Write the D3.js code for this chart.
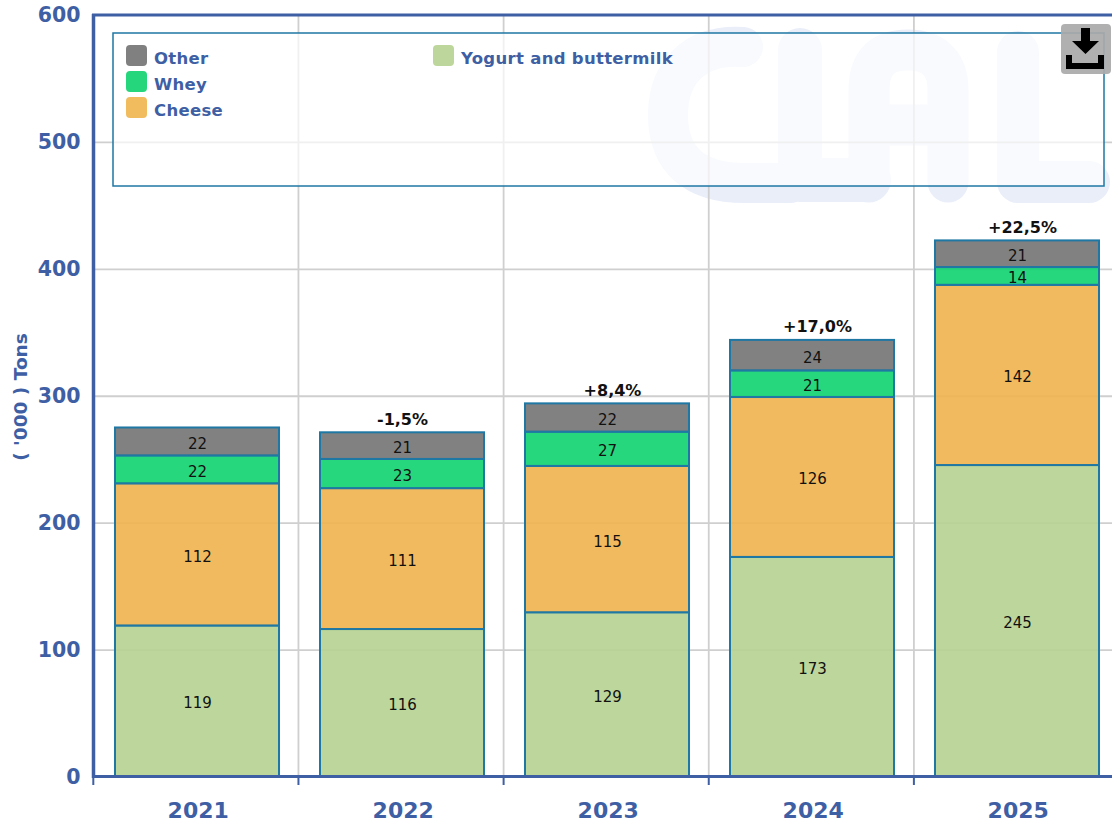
<!DOCTYPE html>
<html><head><meta charset="utf-8">
<script src="https://cdn.jsdelivr.net/npm/d3@7/dist/d3.min.js"></script>
<style>html,body{margin:0;padding:0;background:#fff;overflow:hidden}svg{display:block}
text{font-family:"DejaVu Sans",sans-serif}</style></head><body><svg id="c" width="1112" height="823"></svg>
<script>
const years=["2021","2022","2023","2024","2025"];
const yogurt=[119,116.2,129.4,173,245.4];
const cheese=[112,111,115.3,126,142];
const whey=[22,23,27,21,14];
const other=[22,21,22.3,24,21];
const changes=["","-1,5%","+8,4%","+17,0%","+22,5%"];
const yTicks=[0,100,200,300,400,500,600];
const names=["Yogurt and buttermilk","Cheese","Whey","Other"];
const colors=["#b5d190","#efb34c","#0fd370","#737373"];
const legendSwatch=["#bdd69b","#f0bc5e","#26d67c","#808080"];
const axisBlue="#3f5fa5", border="#1f77a4";

const svg=d3.select("#c");
const rows=years.map((y,i)=>({year:y,[names[0]]:yogurt[i],[names[1]]:cheese[i],[names[2]]:whey[i],[names[3]]:other[i]}));
const stacked=d3.stack().keys(names)(rows);
const x=d3.scaleBand().domain(years).range([94.5,1119.5]);
const barW=164;
const bx=d=>x(d)+x.bandwidth()/2;
const gx=d=>x(d)-1.2+years.indexOf(d)*0.15;
const y=d3.scaleLinear().domain([0,600]).range([776.5,15]);

// watermark
const wm=svg.append("g").attr("fill","none").attr("stroke","#e9eef9").attr("stroke-linecap","round").attr("stroke-linejoin","round");
wm.append("path").attr("stroke-width",40).attr("d","M743 47 C695 44 668 72 668 115 C668 160 695 183 745 183 L790 183");
wm.append("path").attr("stroke-width",44).attr("d","M800 50 L800 180 L869 180");
wm.append("path").attr("stroke-width",41).attr("d","M869 182 L869 90 C869 60 885 50 908 50 C935 50 948 65 948 90 L948 182 M880 125 L940 125");
wm.append("path").attr("stroke-width",42).attr("d","M1018 52 L1018 182 L1089 182");

// grid
const grid=svg.append("g").attr("stroke","#cfcfcf").attr("stroke-width",1.8);
grid.selectAll("line.h").data(yTicks.filter(t=>t>0&&t<600)).join("line").attr("class","h")
 .attr("x1",95).attr("x2",1112).attr("y1",d=>y(d)+.5).attr("y2",d=>y(d)+.5);
grid.selectAll("line.v").data(years.slice(1)).join("line").attr("class","v")
 .attr("x1",gx).attr("x2",gx).attr("y1",15).attr("y2",776);

// legend box
svg.append("rect").attr("x",113).attr("y",33).attr("width",991).attr("height",153)
 .attr("fill","#fff").attr("fill-opacity",.68).attr("stroke",border).attr("stroke-width",1.5);
const legendItems=[{n:3,x:126,y:45},{n:2,x:126,y:71},{n:1,x:126,y:97},{n:0,x:433,y:45}];
const lg=svg.append("g").selectAll("g").data(legendItems).join("g").attr("transform",d=>`translate(${d.x},${d.y})`);
lg.append("rect").attr("width",21).attr("height",21).attr("rx",4).attr("fill",d=>legendSwatch[d.n]);
lg.append("text").attr("x",28).attr("y",18.5).attr("font-size",16.5).attr("font-weight","bold").attr("letter-spacing",.3).attr("fill",axisBlue).text(d=>names[d.n]);

// bars
const series=svg.append("g").selectAll("g").data(stacked).join("g");
series.selectAll("rect").data(s=>s.map(d=>({d,key:s.key}))).join("rect")
 .attr("x",o=>bx(o.d.data.year)-barW/2).attr("width",barW)
 .attr("y",o=>y(o.d[1])).attr("height",o=>y(o.d[0])-y(o.d[1]))
 .attr("fill",o=>colors[names.indexOf(o.key)]).attr("fill-opacity",.9)
 .attr("stroke",border).attr("stroke-width",2);
series.selectAll("text").data(s=>s.map(d=>({d,key:s.key}))).join("text")
 .attr("x",o=>bx(o.d.data.year)+.5).attr("y",o=>(y(o.d[0])+y(o.d[1]))/2+7.5)
 .attr("text-anchor","middle").attr("font-size",15).attr("fill","#111")
 .text(o=>Math.round(o.d.data[o.key]));

// change labels
svg.append("g").selectAll("text").data(years).join("text")
 .attr("x",(d,i)=>bx(d)+(changes[i][0]==="-"?0.5:5.5)).attr("y",(d,i)=>y(yogurt[i]+cheese[i]+whey[i]+other[i])-7.5)
 .attr("text-anchor","middle").attr("font-size",16).attr("font-weight","bold").attr("fill","#111")
 .text((d,i)=>changes[i]);

// axes
const ay=svg.append("g").attr("transform","translate(93.5,0)")
 .call(d3.axisLeft(y).tickValues(yTicks).tickSize(0).tickPadding(13));
ay.selectAll("text").attr("font-size",20.5).attr("font-weight","bold").attr("fill",axisBlue).attr("font-family","DejaVu Sans");
ay.select(".domain").remove();
const ax=svg.append("g").attr("transform","translate(0,776.5)")
 .call(d3.axisBottom(x).tickValues(years).tickSize(0).tickPadding(26));
ax.select(".domain").remove();
ax.selectAll("text").attr("font-size",22).attr("font-weight","bold").attr("fill",axisBlue).attr("font-family","DejaVu Sans").attr("dx",1.2);
svg.append("g").attr("stroke",axisBlue).attr("stroke-width",2).selectAll("line").data(years).join("line")
 .attr("x1",d=>gx(d)).attr("x2",d=>gx(d)).attr("y1",776).attr("y2",785);
const frame=svg.append("g").attr("stroke",axisBlue);
frame.append("line").attr("x1",93.5).attr("x2",93.5).attr("y1",14).attr("y2",778).attr("stroke-width",3.5);
frame.append("line").attr("x1",92).attr("x2",1112).attr("y1",15).attr("y2",15).attr("stroke-width",3);
frame.append("line").attr("x1",92).attr("x2",1112).attr("y1",776.5).attr("y2",776.5).attr("stroke-width",3);

svg.append("text").attr("transform","translate(27,397) rotate(-90)").attr("text-anchor","middle")
 .attr("font-size",18.5).attr("font-weight","bold").attr("fill",axisBlue).text("( '000 ) Tons");

// download button
const btn=svg.append("g").attr("transform","translate(1061,24)");
btn.append("rect").attr("width",50).attr("height",50).attr("rx",4).attr("fill","#a9a9a9").attr("fill-opacity",.92);
btn.append("path").attr("fill","#000").attr("d","M20 4H29V17H38L24.5 30L11 17H20Z");
btn.append("path").attr("fill","none").attr("stroke","#000").attr("stroke-width",6).attr("d","M8 31V42H40V31");
</script></body></html>
